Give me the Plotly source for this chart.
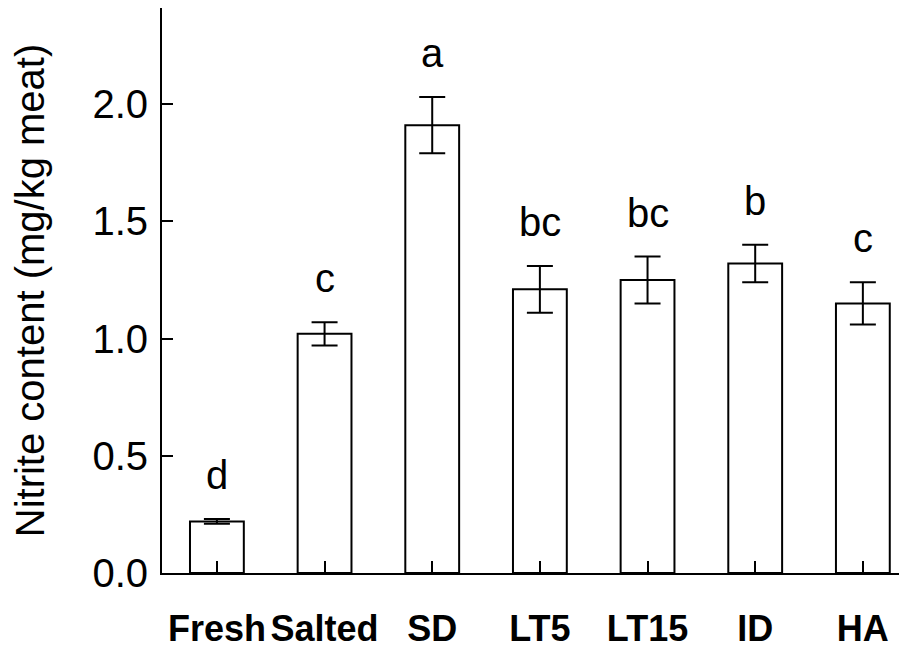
import plotly.graph_objects as go

categories = ["Fresh", "Salted", "SD", "LT5", "LT15", "ID", "HA"]
nitrite = [0.22, 1.02, 1.91, 1.21, 1.25, 1.32, 1.15]
errors = [0.01, 0.05, 0.12, 0.10, 0.10, 0.08, 0.09]
letters = ["d", "c", "a", "bc", "bc", "b", "c"]
y_ticks = [0.0, 0.5, 1.0, 1.5, 2.0]

x_pos = list(range(len(categories)))

fig = go.Figure()
fig.add_trace(go.Bar(
    x=x_pos, y=nitrite, width=0.5,
    marker=dict(color="white", line=dict(color="black", width=2)),
    error_y=dict(type="data", array=errors, visible=True, color="black",
                 thickness=2, width=13),
    showlegend=False,
))

for xi, v, e, lab in zip(x_pos, nitrite, errors, letters):
    fig.add_annotation(x=xi, y=v + e, text=lab, showarrow=False,
                       xanchor="center", yanchor="middle", yshift=44,
                       font=dict(family="Liberation Sans, Arial", size=40, color="black"))

fig.update_layout(
    width=907, height=653,
    margin=dict(l=154, r=8, t=0, b=88, autoexpand=False),
    plot_bgcolor="white", paper_bgcolor="white",
    bargap=0.5,
)
fig.update_xaxes(
    range=[-0.51, 6.41], tickmode="array", tickvals=x_pos, ticktext=categories,
    showline=True, linecolor="black", linewidth=2, mirror=False,
    ticks="inside", ticklen=12, tickwidth=2, tickcolor="black",
    showgrid=False, zeroline=False, ticklabelstandoff=23, automargin=False,
    tickfont=dict(family="Liberation Sans, Arial", size=36, color="black", weight="bold"),
)
fig.update_yaxes(
    range=[0, 2.41], tickmode="array", tickvals=y_ticks,
    ticktext=[f"{t:.1f}" for t in y_ticks],
    showline=True, linecolor="black", linewidth=2,
    ticks="inside", ticklen=11, tickwidth=2, tickcolor="black",
    showgrid=False, zeroline=False, ticklabelstandoff=4, automargin=False,
    tickfont=dict(family="Liberation Sans, Arial", size=40, color="black"),
    title=dict(text="Nitrite content (mg/kg meat)", standoff=41,
               font=dict(family="Liberation Sans, Arial", size=40, color="black")),
)

fig.write_html("out.html")
